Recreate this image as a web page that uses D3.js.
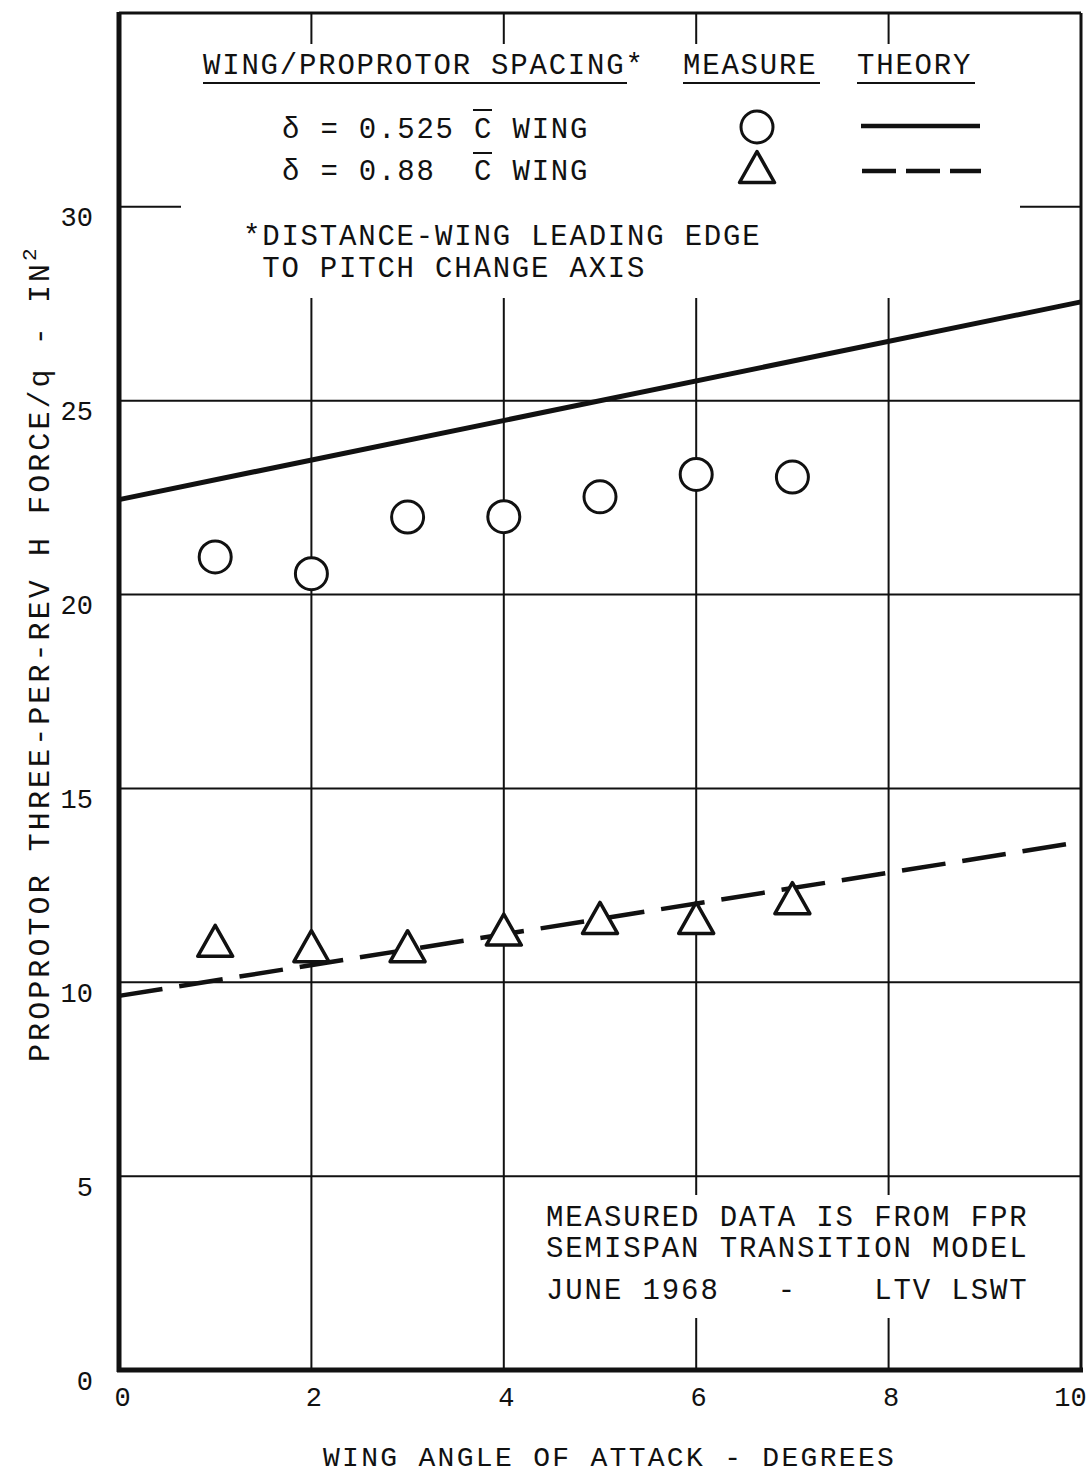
<!DOCTYPE html>
<html>
<head>
<meta charset="utf-8">
<script src="https://cdn.jsdelivr.net/npm/d3@7"></script>
<style>
body { margin: 0; background: #fff; }
text { font-family: "Liberation Mono", monospace; fill: #111; white-space: pre; }
</style>
</head>
<body>
<svg id="chart" width="1092" height="1475"></svg>
<script>
// wing angle of attack (deg) for the measured points
var angles = [1, 2, 3, 4, 5, 6, 7];
// measured three-per-rev H force/q, delta = 0.525 c wing (circles)
var measured525 = [20.97, 20.54, 22.0, 22.01, 22.52, 23.10, 23.03];
// measured, delta = 0.88 c wing (triangles)
var measured088 = [11.07, 10.93, 10.93, 11.36, 11.66, 11.66, 12.17];
// theory lines, ends only
var theoryAngles = [0, 10];
var theory525 = [22.45, 27.55];
var theory088 = [9.65, 13.62];

var xTicks = [0, 2, 4, 6, 8, 10];
var yTicks = [0, 5, 10, 15, 20, 25, 30];
var xGrid = [2, 4, 6, 8];
var yGrid = [5, 10, 15, 20, 25, 30];

var svg = d3.select("#chart");
svg.append("rect").attr("width", 1092).attr("height", 1475).attr("fill", "#fff");

var x = d3.scaleLinear().domain([0, 10]).range([119, 1081]);
var y = d3.scaleLinear().domain([0, 35]).range([1370, 13]);

// grid
svg.append("g").selectAll("line").data(yGrid).join("line")
	.attr("x1", x(0)).attr("x2", x(10))
	.attr("y1", d => y(d)).attr("y2", d => y(d))
	.attr("stroke", "#111").attr("stroke-width", 2);
svg.append("g").selectAll("line").data(xGrid).join("line")
	.attr("x1", d => x(d)).attr("x2", d => x(d))
	.attr("y1", y(35)).attr("y2", y(0))
	.attr("stroke", "#111").attr("stroke-width", 2);

// the grid stops round the two text blocks
svg.append("rect").attr("x", 181).attr("y", 44).attr("width", 839).attr("height", 254).attr("fill", "#fff");
svg.append("rect").attr("x", 530).attr("y", 1195).attr("width", 545).attr("height", 123).attr("fill", "#fff");

// frame
svg.append("line").attr("x1", x(0)).attr("x2", x(10)).attr("y1", y(35)).attr("y2", y(35)).attr("stroke", "#111").attr("stroke-width", 3);
svg.append("line").attr("x1", x(10)).attr("x2", x(10)).attr("y1", y(35)).attr("y2", y(0)).attr("stroke", "#111").attr("stroke-width", 3);
svg.append("line").attr("x1", x(0)).attr("x2", x(0)).attr("y1", y(35) - 1).attr("y2", y(0) + 2).attr("stroke", "#111").attr("stroke-width", 5);
svg.append("line").attr("x1", x(0) - 2).attr("x2", x(10) + 2).attr("y1", y(0)).attr("y2", y(0)).attr("stroke", "#111").attr("stroke-width", 5);

// theory lines
var line = d3.line().x(d => x(d[0])).y(d => y(d[1]));
svg.append("path").datum(d3.zip(theoryAngles, theory525)).attr("d", line)
	.attr("fill", "none").attr("stroke", "#111").attr("stroke-width", 5);
svg.append("path").datum(d3.zip(theoryAngles, theory088)).attr("d", line)
	.attr("fill", "none").attr("stroke", "#111").attr("stroke-width", 4.5)
	.attr("stroke-dasharray", "44 17");

// markers
function tri(w, h) {
	return "M0," + (-h / 2) + "L" + (w / 2) + "," + (h / 2) + "L" + (-w / 2) + "," + (h / 2) + "Z";
}
svg.append("g").selectAll("circle").data(d3.zip(angles, measured525)).join("circle")
	.attr("cx", d => x(d[0])).attr("cy", d => y(d[1])).attr("r", 16)
	.attr("fill", "#fff").attr("stroke", "#111").attr("stroke-width", 3);
svg.append("g").selectAll("path").data(d3.zip(angles, measured088)).join("path")
	.attr("transform", d => "translate(" + x(d[0]) + "," + y(d[1]) + ")")
	.attr("d", tri(35, 31))
	.attr("fill", "#fff").attr("stroke", "#111").attr("stroke-width", 3.5).attr("stroke-linejoin", "round");

// axes
var gx = svg.append("g").attr("transform", "translate(0," + y(0) + ")")
	.call(d3.axisBottom(x).tickValues(xTicks).tickSize(0).tickFormat(d3.format("d")));
gx.select(".domain").remove();
gx.selectAll("text").attr("y", 36).attr("dy", null)
	.attr("font-family", "Liberation Sans, sans-serif").attr("font-size", 27)
	.attr("dx", d => d === 10 ? -11 : (d === 0 ? 3 : 2));

var gy = svg.append("g").attr("transform", "translate(" + x(0) + ",0)")
	.call(d3.axisLeft(y).tickValues(yTicks).tickSize(0).tickPadding(26));
gy.select(".domain").remove();
gy.selectAll("text").attr("dy", null).attr("y", 19)
	.attr("font-family", "Liberation Sans, sans-serif").attr("font-size", 27);

// axis titles
svg.append("text").attr("x", 323).attr("y", 1466)
	.attr("font-size", 28).attr("letter-spacing", 2.3)
	.text("WING ANGLE OF ATTACK - DEGREES");
var yt = svg.append("g").attr("transform", "translate(49,1062) rotate(-90)");
yt.append("text").attr("x", 0).attr("y", 0)
	.attr("font-size", 30).attr("textLength", 798).attr("lengthAdjust", "spacing")
	.text("PROPROTOR THREE-PER-REV H FORCE/q - IN");
yt.append("text").attr("x", 801).attr("y", -13).attr("font-size", 21).text("2");

// legend
var leg = svg.append("g").attr("font-size", 29).attr("letter-spacing", 1.8);
leg.append("text").attr("x", 203).attr("y", 74).text("WING/PROPROTOR SPACING*");
leg.append("text").attr("x", 683).attr("y", 74).text("MEASURE");
leg.append("text").attr("x", 857).attr("y", 74).text("THEORY");
[[203, 627], [683, 820], [857, 975]].forEach(function(u) {
	svg.append("line").attr("x1", u[0]).attr("x2", u[1]).attr("y1", 83).attr("y2", 83)
		.attr("stroke", "#111").attr("stroke-width", 2);
});
leg.append("text").attr("x", 282).attr("y", 138).text("δ = 0.525 C WING");
leg.append("text").attr("x", 282).attr("y", 180).text("δ = 0.88  C WING");
[110, 153].forEach(function(yy) {
	svg.append("line").attr("x1", 473).attr("x2", 492).attr("y1", yy).attr("y2", yy)
		.attr("stroke", "#111").attr("stroke-width", 2);
});
svg.append("circle").attr("cx", 757).attr("cy", 127).attr("r", 16)
	.attr("fill", "#fff").attr("stroke", "#111").attr("stroke-width", 3);
svg.append("path").attr("transform", "translate(757,167)").attr("d", tri(35, 31))
	.attr("fill", "#fff").attr("stroke", "#111").attr("stroke-width", 3.5).attr("stroke-linejoin", "round");
svg.append("line").attr("x1", 861).attr("x2", 980).attr("y1", 126).attr("y2", 126)
	.attr("stroke", "#111").attr("stroke-width", 4.5);
svg.append("line").attr("x1", 862).attr("x2", 981).attr("y1", 171).attr("y2", 171)
	.attr("stroke", "#111").attr("stroke-width", 4.5).attr("stroke-dasharray", "34 10");

leg.append("text").attr("x", 243).attr("y", 245).text("*DISTANCE-WING LEADING EDGE");
leg.append("text").attr("x", 243).attr("y", 277).text(" TO PITCH CHANGE AXIS");

// source note
var note = svg.append("g").attr("font-size", 29).attr("letter-spacing", 1.9);
note.append("text").attr("x", 546).attr("y", 1226).text("MEASURED DATA IS FROM FPR");
note.append("text").attr("x", 546).attr("y", 1257).text("SEMISPAN TRANSITION MODEL");
note.append("text").attr("x", 546).attr("y", 1299).text("JUNE 1968   -    LTV LSWT");
</script>
</body>
</html>
